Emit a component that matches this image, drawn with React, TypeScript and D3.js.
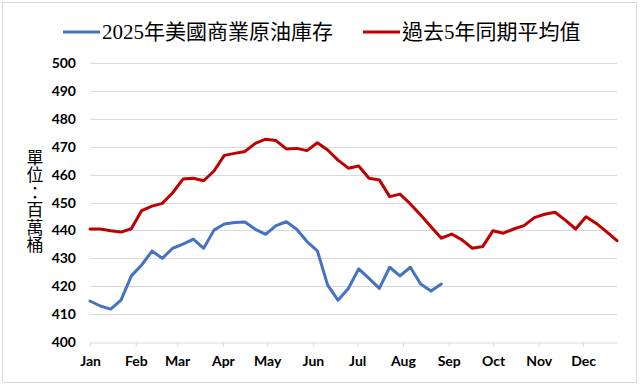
import React, { useRef, useEffect } from 'react';
import * as d3 from 'd3';

// weekly values, first week ends 2025-01-03
const stocks2025 = [
  414.7, 412.9, 411.8, 415.0, 423.7, 427.6, 432.6, 430.0, 433.6, 435.1, 436.9, 433.6,
  440.1, 442.3, 442.8, 443.0, 440.4, 438.6, 441.7, 443.1, 440.4, 436.0, 432.7, 420.4,
  415.0, 419.2, 426.2, 422.8, 419.2, 426.8, 423.7, 426.8, 420.8, 418.3, 420.8,
];
const avg5y = [
  440.5, 440.5, 439.9, 439.4, 440.6, 447.1, 448.7, 449.7, 453.5, 458.4, 458.7, 457.8,
  461.3, 466.9, 467.6, 468.3, 471.2, 472.7, 472.2, 469.2, 469.4, 468.6, 471.4, 468.8,
  465.2, 462.3, 463.1, 458.7, 458.1, 452.1, 453.0, 449.5, 445.5, 441.3, 437.2, 438.7,
  436.6, 433.6, 434.2, 439.9, 439.0, 440.5, 441.7, 444.6, 445.8, 446.5, 443.7, 440.5,
  444.9, 442.5, 439.5, 436.3,
];
const monthLabels = ['Jan', 'Feb', 'Mar', 'Apr', 'May', 'Jun', 'Jul', 'Aug', 'Sep', 'Oct', 'Nov', 'Dec'];
const yTicks = [400, 410, 420, 430, 440, 450, 460, 470, 480, 490, 500];
const seriesNames = ['2025年美國商業原油庫存', '過去5年同期平均值'];
const seriesColors = ['#4472C4', '#C00000'];
const unitLabel = ['單', '位', '：', '百', '萬', '桶'];

const firstWeek = new Date(2025, 0, 3);
const weekDate = (i: number) => d3.timeDay.offset(firstWeek, i * 7);

function App() {
  const ref = useRef<SVGSVGElement>(null);

  useEffect(() => {
    if (!ref.current) return;
    const svg = d3.select(ref.current);
    svg.selectAll('*').remove();

    const width = 640;
    const height = 386;
    const left = 90, right = 617, top = 63, bottom = 342;

    const x = d3.scaleTime()
      .domain([firstWeek, weekDate(avg5y.length - 1)])
      .range([left, right]);
    const y = d3.scaleLinear().domain([400, 500]).range([bottom, top]);

    const sansBold = 'Lato, "Open Sans", sans-serif';
    const serif = '"Liberation Serif", "Noto Sans CJK TC", serif';

    svg.append('rect')
      .attr('x', 0).attr('y', 0).attr('width', width).attr('height', height)
      .attr('fill', '#fff');
    svg.append('rect')
      .attr('x', 2.5).attr('y', 2.5).attr('width', 634).attr('height', 380)
      .attr('fill', 'none').attr('stroke', '#d9d9d9');

    // gridlines
    svg.append('g')
      .selectAll('line')
      .data(yTicks.slice(1))
      .enter().append('line')
      .attr('x1', left).attr('x2', right)
      .attr('y1', d => Math.round(y(d)) + 0.5).attr('y2', d => Math.round(y(d)) + 0.5)
      .attr('stroke', '#d9d9d9').attr('stroke-width', 1);

    // y labels
    svg.append('g')
      .selectAll('text')
      .data(yTicks)
      .enter().append('text')
      .attr('x', 76)
      .attr('y', d => y(d))
      .attr('dy', '0.36em')
      .attr('text-anchor', 'end')
      .style('font-family', sansBold)
      .style('font-weight', 'bold')
      .style('font-size', '14px')
      .attr('fill', '#000')
      .text(d => d);

    // x axis
    const monthTicks = monthLabels.map((_, m) => new Date(2025, m, 3));
    const xAxis = d3.axisBottom(x)
      .tickValues(monthTicks)
      .tickSize(4)
      .tickSizeOuter(0)
      .tickFormat((_, i) => monthLabels[i]);
    const gx = svg.append('g')
      .attr('transform', `translate(0, ${Math.round(bottom) + 0.5})`)
      .call(xAxis);
    gx.select('.domain').attr('stroke', '#d9d9d9');
    gx.selectAll('.tick line').attr('stroke', '#d9d9d9');
    gx.selectAll('.tick text')
      .attr('y', 14)
      .attr('dy', '0.71em')
      .attr('fill', '#000')
      .style('font-family', sansBold)
      .style('font-weight', 'bold')
      .style('font-size', '14px');

    // lines
    const line = d3.line<number>()
      .x((_, i) => x(weekDate(i)))
      .y(d => y(d));
    [stocks2025, avg5y].forEach((s, i) => {
      svg.append('path')
        .datum(s)
        .attr('fill', 'none')
        .attr('stroke', seriesColors[i])
        .attr('stroke-width', 3)
        .attr('stroke-linejoin', 'round')
        .attr('stroke-linecap', 'round')
        .attr('d', line);
    });

    // unit label, stacked
    svg.append('g')
      .selectAll('text')
      .data(unitLabel)
      .enter().append('text')
      .attr('x', 35)
      .attr('y', (_, i) => 158 + i * 17.5)
      .attr('text-anchor', 'middle')
      .attr('dominant-baseline', 'central')
      .style('font-family', serif)
      .style('font-size', '17px')
      .attr('fill', '#000')
      .text(d => d);

    // legend
    const legendX = [63, 363];
    seriesNames.forEach((name, i) => {
      const g = svg.append('g').attr('transform', `translate(${legendX[i]}, 32)`);
      g.append('line')
        .attr('x1', 0).attr('x2', 37)
        .attr('stroke', seriesColors[i])
        .attr('stroke-width', 3);
      g.append('text')
        .attr('x', 39)
        .attr('dominant-baseline', 'central')
        .style('font-family', serif)
        .style('font-size', '21px')
        .attr('fill', '#000')
        .text(name);
    });
  }, []);

  return (
    <svg ref={ref} width={640} height={386} style={{ position: 'absolute', left: 0, top: 0 }} />
  );
}

export default App;
